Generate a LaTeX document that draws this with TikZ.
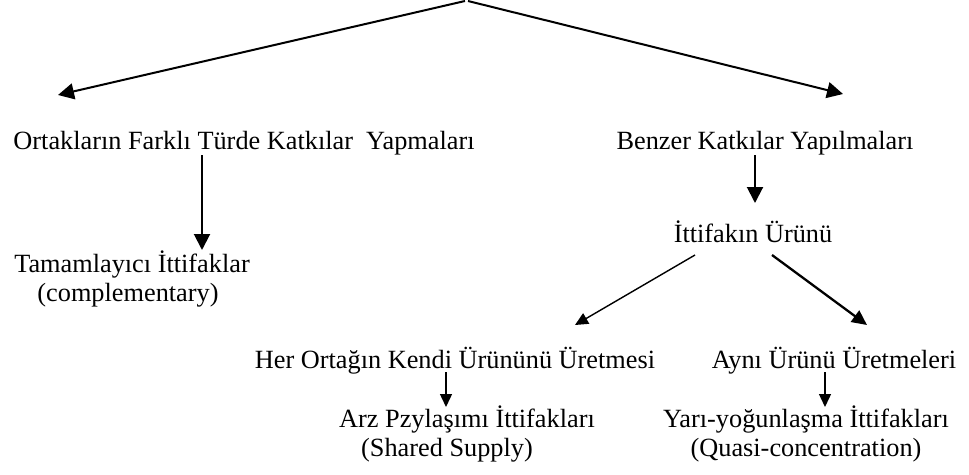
\documentclass[tikz,border=0pt]{standalone}
\usepackage{fontspec}
\setmainfont{Liberation Serif}
\usetikzlibrary{arrows.meta}
\begin{document}
\begin{tikzpicture}[x=1pt,y=-1pt,
  lbl/.style={anchor=base,inner sep=0pt,font=\fontsize{26.3}{30}\selectfont},
  bigarr/.style={line width=2pt,-{Triangle[length=16pt,width=16pt]}},
  smallarr/.style={line width=1.4pt,-{Triangle[length=13pt,width=12pt]}},
  thickarr/.style={line width=2.3pt,-{Triangle[length=15pt,width=14pt]}}]
\useasboundingbox (0,0) rectangle (969,474);
% text nodes
\node[lbl] (ortak) at (244,149) {Ortakların Farklı Türde Katkılar\ \ Yapmaları};
\node[lbl] (benzer) at (765,149) {Benzer Katkılar Yapılmaları};
\node[lbl] (tam1) at (132,272) {Tamamlayıcı İttifaklar};
\node[lbl] (tam2) at (128,301) {(complementary)};
\node[lbl] (ittifak) at (753,242) {İttifakın Ürünü};
\node[lbl] (her) at (455,368) {Her Ortağın Kendi Ürününü Üretmesi};
\node[lbl] (ayni) at (834,368) {Aynı Ürünü Üretmeleri};
\node[lbl] (arz1) at (467,427) {Arz Pzylaşımı İttifakları};
\node[lbl] (arz2) at (447,456) {(Shared Supply)};
\node[lbl] (yari1) at (806,427) {Yarı-yoğunlaşma İttifakları};
\node[lbl] (yari2) at (806,456) {(Quasi-concentration)};
% connector end points
\coordinate (topL) at (465,1);
\coordinate (topR) at (468,1);
\coordinate (tipL) at (58,95);
\coordinate (tipR) at (843,94);
\coordinate (o1) at (202,155);
\coordinate (o2) at (202,250);
\coordinate (b1) at (755,155);
\coordinate (b2) at (755,203);
\coordinate (i1) at (695,255);
\coordinate (i2) at (575,325);
\coordinate (i3) at (772,255);
\coordinate (i4) at (867,325);
\coordinate (h1) at (446,372);
\coordinate (h2) at (446,407);
\coordinate (a1) at (825,372);
\coordinate (a2) at (825,407);
% connectors
\draw[bigarr] (topL) -- (tipL);
\draw[bigarr] (topR) -- (tipR);
\draw[bigarr] (o1) -- (o2);
\draw[bigarr] (b1) -- (b2);
\draw[smallarr] (i1) -- (i2);
\draw[thickarr] (i3) -- (i4);
\draw[smallarr] (h1) -- (h2);
\draw[smallarr] (a1) -- (a2);
\end{tikzpicture}
\end{document}
